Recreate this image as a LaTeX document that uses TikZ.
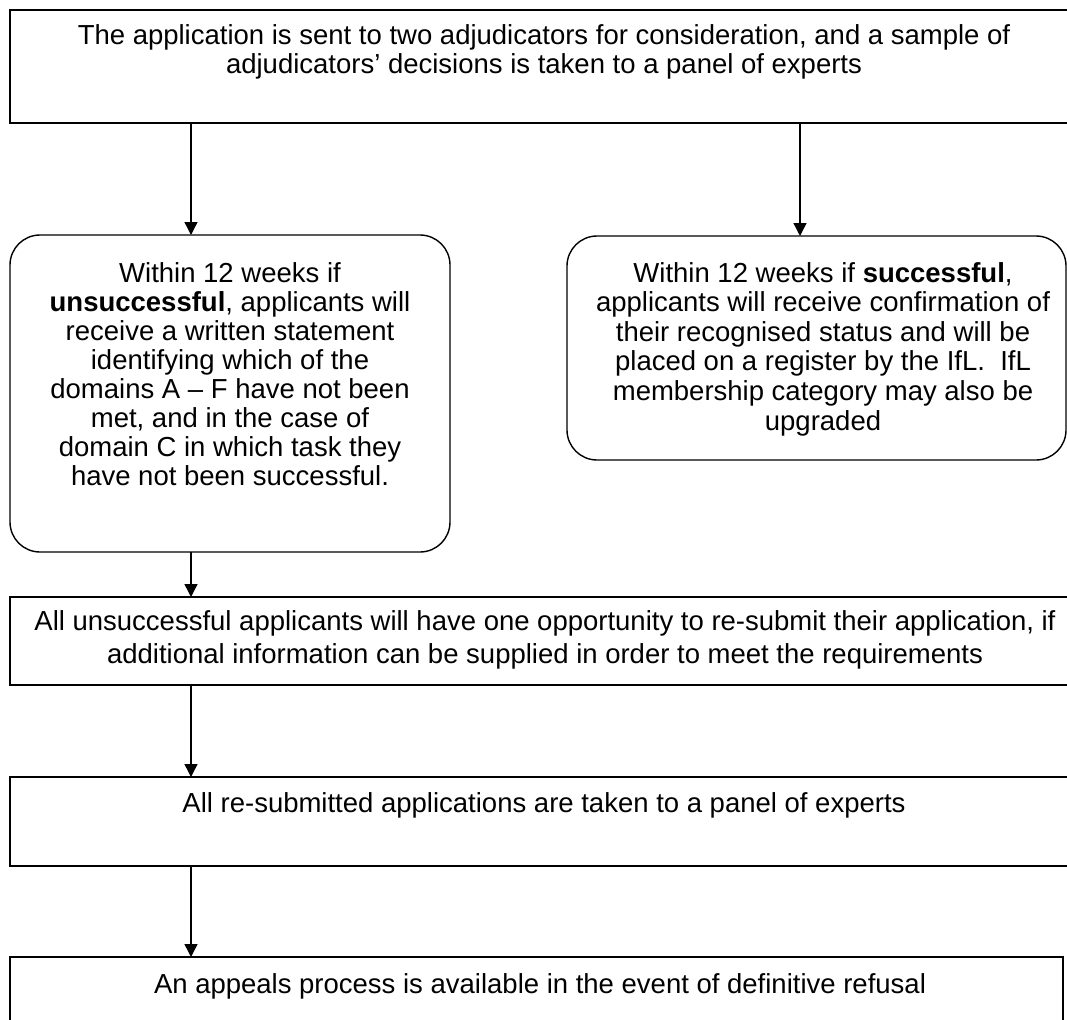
\documentclass[tikz,border=0pt]{standalone}
\usepackage{fontspec}
\setmainfont{Liberation Sans}
\usetikzlibrary{arrows.meta}
\begin{document}
\begin{tikzpicture}[x=1pt,y=-1pt,
  box/.style={draw=black, line width=1.4pt, inner sep=0pt, outer sep=0pt, anchor=north west},
  rbox/.style={box, rounded corners=30pt},
  txt/.style={anchor=north, inner sep=0pt, outer sep=0pt, align=center, text=black, font=\fontsize{27.5}{#1}\selectfont},
  txt/.default=29,
  arr/.style={draw=black, line width=1.4pt, -{Triangle[length=13pt,width=13pt]}}]
\useasboundingbox (0,0) rectangle (1067,1019);
\clip (0,0) rectangle (1067,1019);

% boxes
\node[box, minimum width=1068pt, minimum height=113pt] (b1) at (10,10) {};
\node[rbox, minimum width=440pt, minimum height=317pt] (b2) at (10,235) {};
\node[rbox, minimum width=499pt, minimum height=224pt] (b3) at (567,236) {};
\node[box, minimum width=1068pt, minimum height=88pt] (b4) at (10,597) {};
\node[box, minimum width=1068pt, minimum height=89pt] (b5) at (10,777) {};
\node[box, minimum width=1053pt, minimum height=80pt] (b6) at (10,957) {};

% texts
\node[txt] (t1) at (544,24.7) {\strut The application is sent to two adjudicators for consideration, and a sample of\\adjudicators’ decisions is taken to a panel of experts};
\node[txt] (t2) at (230,261.7) {\strut Within 12 weeks if\\\textbf{unsuccessful}, applicants will\\receive a written statement\\identifying which of the\\domains A – F have not been\\met, and in the case of\\domain C in which task they\\have not been successful.};
\node[txt=29.6] (t3) at (823,261.3) {\strut Within 12 weeks if \textbf{successful},\\applicants will receive confirmation of\\their recognised status and will be\\placed on a register by the IfL.~~IfL\\membership category may also be\\upgraded};
\node[txt=33] (t4) at (545,606.9) {\strut All unsuccessful applicants will have one opportunity to re-submit their application, if\\additional information can be supplied in order to meet the requirements};
\node[txt] (t5) at (544,791.7) {\strut All re-submitted applications are taken to a panel of experts};
\node[txt] (t6) at (540,972.7) {\strut An appeals process is available in the event of definitive refusal};

% arrow columns
\coordinate (ax) at (191,0);
\coordinate (bx) at (800,0);

\draw[arr] (b1.south -| ax) -- (b2.north -| ax);
\draw[arr] (b1.south -| bx) -- (b3.north -| bx);
\draw[arr] (b2.south -| ax) -- (b4.north -| ax);
\draw[arr] (b4.south -| ax) -- (b5.north -| ax);
\draw[arr] (b5.south -| ax) -- (b6.north -| ax);
\end{tikzpicture}
\end{document}
